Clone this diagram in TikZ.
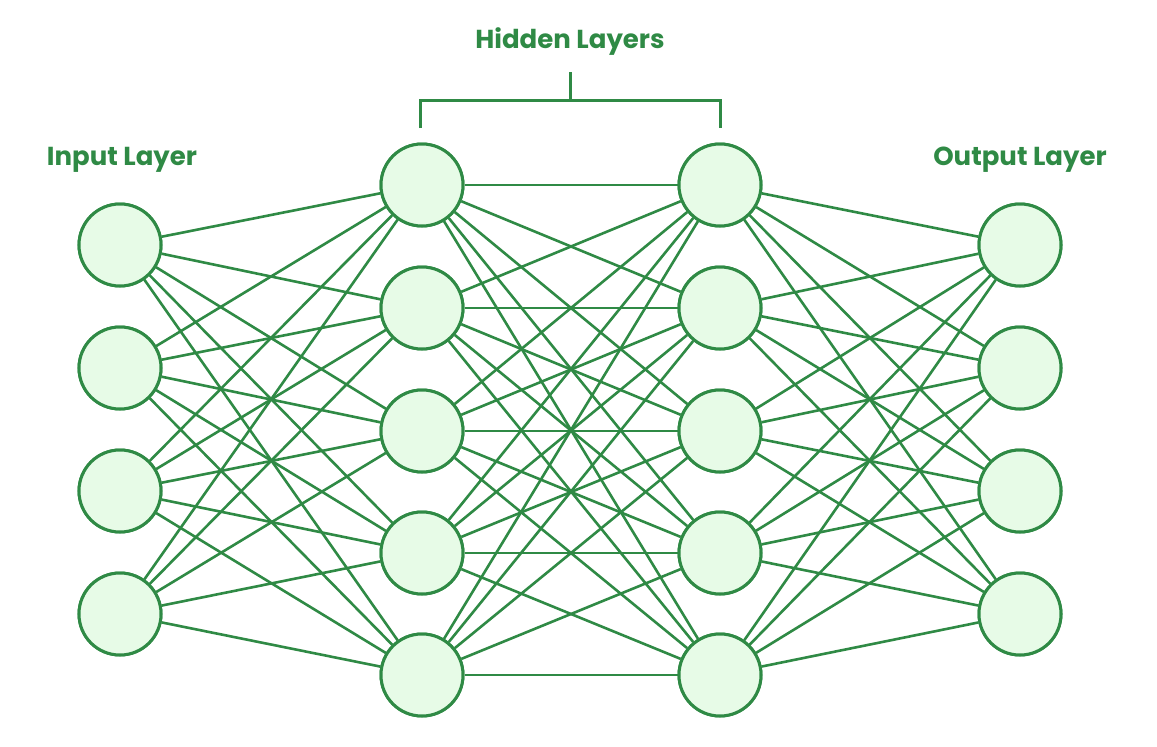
\documentclass[tikz,border=0pt]{standalone}
\usepackage{fontspec}
\setmainfont{Poppins}
\definecolor{gg}{HTML}{2F8A45}
\definecolor{gf}{HTML}{E7FBE7}
\begin{document}
\begin{tikzpicture}[x=1pt,y=-1pt,
  neuron/.style={circle,draw=gg,fill=gf,line width=3pt,minimum size=82pt,inner sep=0pt},
  edge/.style={draw=gg,line width=2.6pt},
  lbl/.style={text=gg,font=\fontsize{26}{30}\selectfont\bfseries}]
\useasboundingbox (0,0) rectangle (1157,747);
\foreach \i/\y in {1/245,2/368,3/491,4/614} {
  \node[neuron] (I\i) at (120,\y) {};
  \node[neuron] (O\i) at (1020,\y) {};
}
\foreach \i/\y in {1/185,2/308,3/431,4/553,5/675} {
  \node[neuron] (A\i) at (422,\y) {};
  \node[neuron] (B\i) at (720,\y) {};
}
\begin{scope}[on background layer/.try]
\end{scope}
\foreach \i in {1,...,4} \foreach \j in {1,...,5} {
  \path[edge] (I\i) -- (A\j);
  \path[edge] (B\j) -- (O\i);
}
\foreach \i in {1,...,5} \foreach \j in {1,...,5} {
  \path[edge] (A\i) -- (B\j);
}
\foreach \i/\y in {1/245,2/368,3/491,4/614} {
  \node[neuron] at (120,\y) {};
  \node[neuron] at (1020,\y) {};
}
\foreach \i/\y in {1/185,2/308,3/431,4/553,5/675} {
  \node[neuron] at (422,\y) {};
  \node[neuron] at (720,\y) {};
}
\coordinate (bl) at (420,128);
\coordinate (br) at (720,128);
\coordinate (bt) at (570,72);
\draw[gg,line width=3pt] (bl) -- (420,100) -- (720,100) -- (br) (570,100) -- (bt);
\node[lbl] (h) at (570,42) {Hidden Layers};
\node[lbl] (il) at (122,160) {Input Layer};
\node[lbl] (ol) at (1020,160) {Output Layer};
\end{tikzpicture}
\end{document}
